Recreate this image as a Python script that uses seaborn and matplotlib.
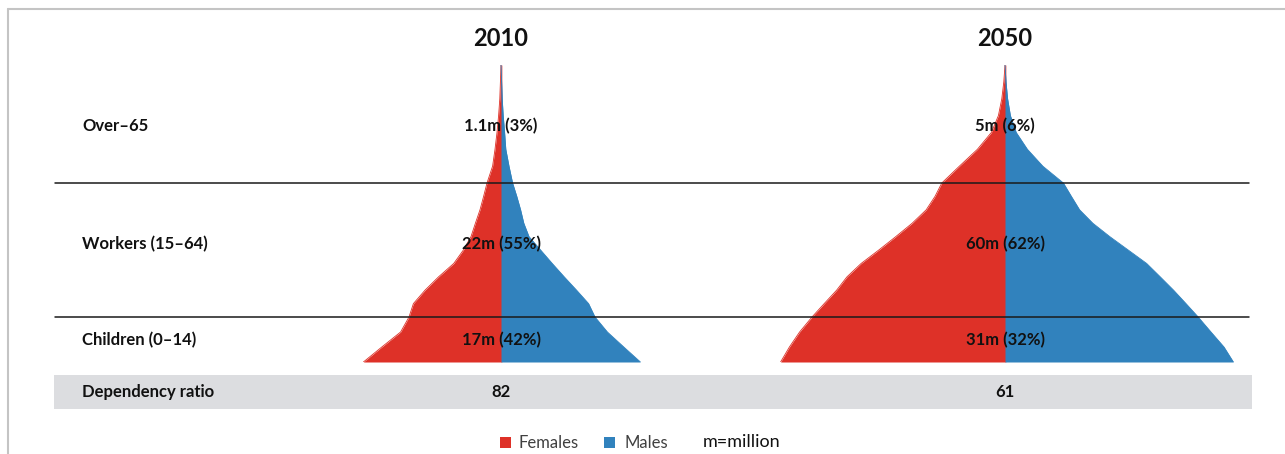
import matplotlib.pyplot as plt
import numpy as np
import seaborn as sns
from matplotlib.patches import Rectangle

# single-year ages (upper ages squeezed like the original chart)
ages = [0, 5, 10, 15, 20, 25, 30, 35, 40, 45, 50, 55, 60, 65, 70, 75, 80, 85, 90, 95, 100]

# population per year of age, thousands
females_2010 = [688, 596, 502, 460, 438, 380, 312, 236, 188, 150, 128, 105, 87, 70, 42, 30, 20, 12, 6, 3, 0]
males_2010 = [697, 614, 532, 470, 438, 378, 316, 256, 198, 140, 114, 98, 79, 58, 40, 24, 18, 11, 6, 3, 0]
females_2050 = [1122, 1078, 1027, 965, 904, 842, 790, 719, 631, 546, 464, 394, 350, 316, 228, 138, 68, 33, 16, 6, 0]
males_2050 = [1142, 1095, 1030, 966, 905, 843, 776, 708, 616, 524, 439, 373, 332, 292, 189, 112, 56, 27, 13, 5, 0]

years = ['2010', '2050']
groups = ['Over\u201365', 'Workers (15\u201364)', 'Children (0\u201314)']
group_labels_2010 = ['1.1m (3%)', '22m (55%)', '17m (42%)']
group_labels_2050 = ['5m (6%)', '60m (62%)', '31m (32%)']
dependency_ratio = [82, 61]

RED = '#de3128'
BLUE = '#3182bd'

sns.set_theme(style='white')
plt.rcParams['font.family'] = ['Lato', 'DejaVu Sans']

W, H = 1285, 454
fig = plt.figure(figsize=(W / 100, H / 100), dpi=100)

# age axis: same vertical layout as the original (bands not equal height)
age_knots = [0, 15, 65, 100]
px_knots = [0, 45, 179, 297]


def fwd(a):
    return np.interp(a, age_knots, px_knots)


def inv(p):
    return np.interp(p, px_knots, age_knots)


def pyramid(center_px, females, males):
    half = 250
    ax = fig.add_axes([(center_px - half) / W, (H - 362) / H, 2 * half / W, 297 / H])
    ax.set_yscale('function', functions=(fwd, inv))
    f = -np.array(females)
    m = np.array(males)
    # red overlaps a hair past the middle so no seam shows
    ax.fill_betweenx(ages, f, 4, color=RED, lw=0)
    ax.fill_betweenx(ages, 0, m, color=BLUE, lw=0)
    sns.lineplot(x=f, y=ages, orient='y', sort=False, color=RED, lw=0.6, ax=ax)
    sns.lineplot(x=m, y=ages, orient='y', sort=False, color=BLUE, lw=0.6, ax=ax)
    ax.set_xlim(-half * 5, half * 5)
    ax.set_ylim(0, 100)
    ax.patch.set_alpha(0)
    ax.axis('off')
    return ax


centers = [501, 1005]
pyramid(centers[0], females_2010, males_2010)
pyramid(centers[1], females_2050, males_2050)

# overlay for text, separators, band
ov = fig.add_axes([0, 0, 1, 1])
ov.set_xlim(0, W)
ov.set_ylim(H, 0)
ov.patch.set_alpha(0)
ov.axis('off')

# frame
ov.plot([8, W], [9, 9], color='#c4c4c4', lw=1.5)
ov.plot([8, 8], [9, H], color='#c4c4c4', lw=1.5)

ov.add_patch(Rectangle((54, 375), 1198, 34, color='#dcdde0', lw=0))
for y in [183, 317]:
    ov.plot([55, 1249], [y, y], color='#1a1a1a', lw=1.1)

row_y = [126, 244, 340]
for label, y in zip(groups, row_y):
    ov.text(82, y, label, fontsize=12, fontweight='bold', va='center', ha='left', color='#111111')
ov.text(82, 392, 'Dependency ratio', fontsize=12, fontweight='bold', va='center', ha='left', color='#111111')

for cx, yr, labels, dr in zip(centers, years, [group_labels_2010, group_labels_2050], dependency_ratio):
    ov.text(cx, 38, yr, fontsize=17, fontweight='bold', ha='center', va='center', color='#111111')
    for label, y in zip(labels, row_y):
        ov.text(cx, y, label, fontsize=12, fontweight='bold', ha='center', va='center', color='#111111')
    ov.text(cx, 392, str(dr), fontsize=12, fontweight='bold', ha='center', va='center', color='#111111')

# legend
ov.add_patch(Rectangle((500, 437), 11, 11, color=RED, lw=0))
ov.text(518, 443, 'Females', fontsize=12, va='center', ha='left', color='#404040')
ov.add_patch(Rectangle((604, 437), 11, 11, color=BLUE, lw=0))
ov.text(625, 443, 'Males', fontsize=12, va='center', ha='left', color='#404040')
ov.text(703, 442, 'm=million', fontsize=13, va='center', ha='left', color='#111111')

fig.savefig('out.png', dpi=100)
